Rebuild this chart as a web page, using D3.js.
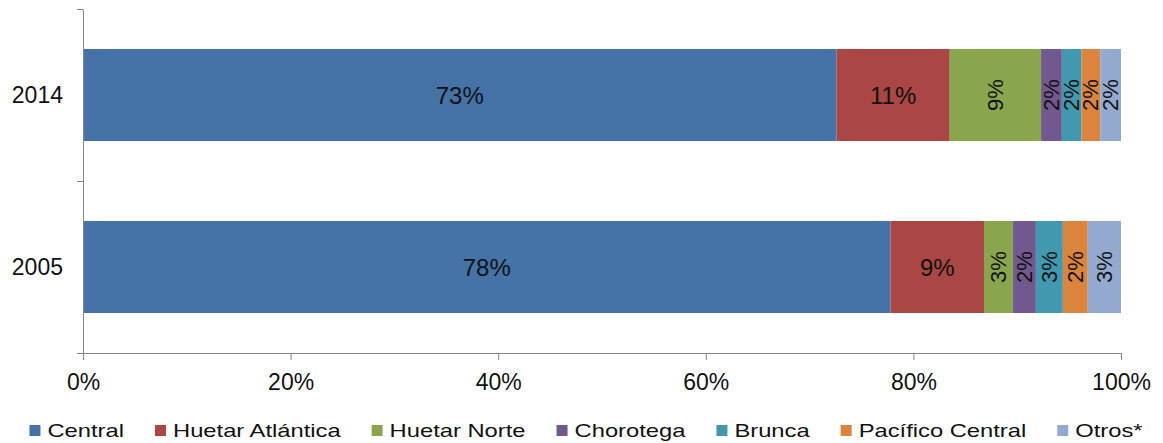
<!DOCTYPE html>
<html>
<head>
<meta charset="utf-8">
<script src="https://cdn.jsdelivr.net/npm/d3@7"></script>
<style>
  body { margin: 0; background: #fff; }
  svg { display: block; font-family: "Liberation Sans", Arial, sans-serif; }
</style>
</head>
<body>
<div id="graph"></div>
<script>
// Share of each region per year (percent)
const years = ["2014", "2005"];
const regions = ["Central", "Huetar Atlántica", "Huetar Norte", "Chorotega", "Brunca", "Pacífico Central", "Otros*"];
const central     = [72.6, 77.8];
const huetarAtl   = [10.9, 9.0];
const huetarNorte = [8.8, 2.8];
const chorotega   = [2.0, 2.2];
const brunca      = [1.9, 2.6];
const pacifico    = [1.8, 2.4];
const otros       = [2.0, 3.2];
const xTicks = [0, 0.2, 0.4, 0.6, 0.8, 1];

const colors = ["#4572A7", "#AA4643", "#89A54E", "#71588F", "#4198AF", "#DB843D", "#93A9CF"];

// build rows for d3.stack
const series = [central, huetarAtl, huetarNorte, chorotega, brunca, pacifico, otros];
const rows = years.map((yr, i) => {
  const r = { year: yr };
  regions.forEach((reg, j) => r[reg] = series[j][i]);
  return r;
});

const width = 1163, height = 443;
const margins = { top: 9, bottom: 90, left: 83, right: 42 };

const svg = d3.select("#graph").append("svg")
  .attr("width", width)
  .attr("height", height);

const x = d3.scaleLinear().domain([0, 1]).range([margins.left, width - margins.right]);

// bars sit in the middle of each band
const yBar = d3.scaleBand()
  .domain(years)
  .range([margins.top, height - margins.bottom])
  .paddingInner(0.465)
  .paddingOuter(0.2325);

const stacked = d3.stack().keys(regions).offset(d3.stackOffsetExpand)(rows);

// segments
const layer = svg.selectAll(".layer")
  .data(stacked)
  .enter().append("g")
  .attr("class", "layer")
  .style("fill", (d, i) => colors[i]);

layer.selectAll("rect")
  .data(d => d)
  .enter().append("rect")
  .attr("x", d => x(d[0]))
  .attr("y", d => yBar(d.data.year))
  .attr("width", d => x(d[1]) - x(d[0]))
  .attr("height", yBar.bandwidth());

// data labels (small ones are turned on their side)
stacked.forEach((s, i) => {
  s.forEach(d => {
    const val = d.data[s.key];
    const cx = (x(d[0]) + x(d[1])) / 2;
    const cy = yBar(d.data.year) + yBar.bandwidth() / 2;
    const t = svg.append("text")
      .attr("text-anchor", "middle")
      .attr("dominant-baseline", "central")
      .style("fill", "#111")
      .text(Math.round(val) + "%");
    if (val >= 8.9) {
      t.attr("x", cx).attr("y", cy).style("font-size", "24px");
    } else {
      t.attr("transform", "translate(" + cx + "," + cy + ") rotate(-90)")
        .style("font-size", "22px");
    }
  });
});

// y axis: line with ticks at band edges
const yEdge = d3.scaleLinear().domain([0, years.length]).range([height - margins.bottom, margins.top]);
const yAxis = svg.append("g")
  .attr("transform", "translate(" + margins.left + ",0)")
  .call(d3.axisLeft(yEdge).tickValues(d3.range(years.length + 1)).tickFormat("").tickSize(6).tickSizeOuter(0));

svg.selectAll(".yLabel")
  .data(years)
  .enter().append("text")
  .attr("class", "yLabel")
  .attr("x", margins.left - 20)
  .attr("y", d => yBar(d) + yBar.bandwidth() / 2)
  .attr("text-anchor", "end")
  .attr("dominant-baseline", "central")
  .style("font-size", "23px")
  .style("fill", "#111")
  .text(d => d);

// x axis
const xAxis = svg.append("g")
  .attr("transform", "translate(0," + (height - margins.bottom) + ")")
  .call(d3.axisBottom(x).tickValues(xTicks).tickFormat(d3.format(".0%")).tickSize(7).tickSizeOuter(0).tickPadding(14));

xAxis.selectAll("text").style("font-size", "23px").style("fill", "#111").style("font-family", "inherit");

svg.selectAll(".domain, .tick line").attr("stroke", "#868686");

// legend
const legend = svg.append("g");
let lx = 0;
const items = regions.map((reg, i) => {
  const g = legend.append("g");
  g.append("rect").attr("x", 0).attr("y", 425).attr("width", 11).attr("height", 11).style("fill", colors[i]);
  const t = g.append("text")
    .attr("transform", "translate(18,437) scale(1.25,1)")
    .style("font-size", "19px")
    .style("fill", "#111")
    .text(reg);
  const w = 18 + t.node().getComputedTextLength() * 1.25;
  g.attr("transform", "translate(" + lx + ",0)");
  lx += w + 31;
  return g;
});
const legendWidth = lx - 31;
legend.attr("transform", "translate(" + (586 - legendWidth / 2) + ",0)");
</script>
</body>
</html>
